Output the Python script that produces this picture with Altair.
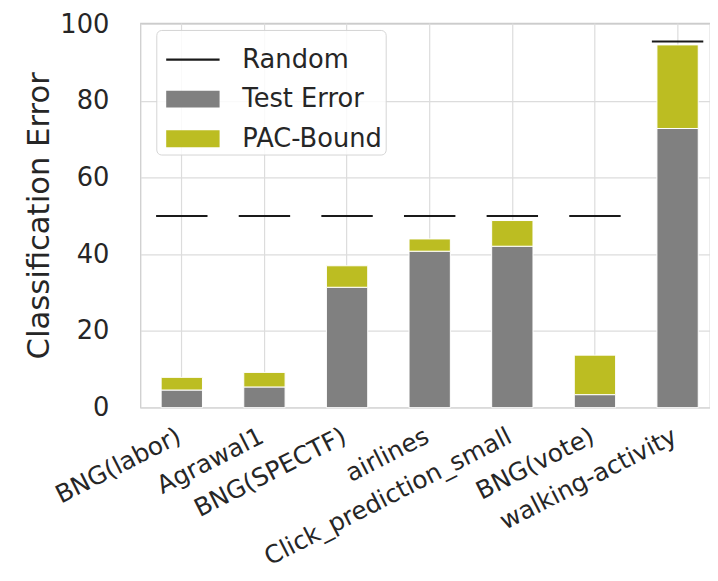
import altair as alt
import pandas as pd

# ---- data ----
datasets = ["BNG(labor)", "Agrawal1", "BNG(SPECTF)", "airlines",
            "Click_prediction_small", "BNG(vote)", "walking-activity"]
test_error = [4.6, 5.4, 31.4, 40.8, 42.1, 3.4, 72.8]
pac_bound = [7.9, 9.2, 37.0, 44.0, 48.8, 13.7, 94.6]
random_error = [50, 50, 50, 50, 50, 50, 95.5]

series = ["Random", "Test Error", "PAC-Bound"]
series_colors = ["#1a1a1a", "#808080", "#bcbd22"]
legend_shapes = ["M-1,-0.04H1V0.04H-1Z",
                 "M-1,-0.315H1V0.315H-1Z",
                 "M-1,-0.315H1V0.315H-1Z"]

y_ticks = [0, 20, 40, 60, 80, 100]

df = pd.DataFrame({"dataset": datasets, "test": test_error,
                   "pac": pac_bound, "random": random_error})
legend_df = pd.DataFrame({"series": series})

FONT = "DejaVu Sans"
TXT = "#262626"

x_enc = alt.X(
    "dataset:N", sort=datasets, title=None,
    scale=alt.Scale(range=[0, 585], paddingInner=0.5, paddingOuter=0.25),
    axis=alt.Axis(labelAngle=-27, labelAlign="right", labelBaseline="top",
                  labelPadding=16, labelOffset=-8, labelFontSize=25,
                  labelFont=FONT, labelColor=TXT, labelLimit=600,
                  labelOverlap=False, labelBound=False, ticks=False,
                  domain=False, grid=True, bandPosition=0.5,
                  gridColor="#dcdcdc", gridWidth=1.2),
)
y_scale = alt.Scale(domain=[0, 100.3], nice=False, zero=True)
y_axis = alt.Axis(values=y_ticks, title="Classification Error",
                  titleFontSize=31, titleFont=FONT, titleFontWeight="normal",
                  titleColor=TXT, titleBaseline="alphabetic", titleX=-93,
                  labelFontSize=26, labelFont=FONT, labelColor=TXT,
                  labelPadding=32, ticks=False, domain=False, grid=True,
                  gridColor="#dcdcdc", gridWidth=1.2)

base = alt.Chart(df)

test_bars = base.mark_bar(color="#808080", stroke="white", strokeWidth=1).encode(
    x=x_enc,
    y=alt.Y("test:Q", scale=y_scale, axis=y_axis),
)
pac_bars = base.mark_bar(color="#bcbd22", stroke="white", strokeWidth=1).encode(
    x=x_enc,
    y=alt.Y("test:Q", scale=y_scale, axis=y_axis),
    y2="pac:Q",
)
random_ticks = base.mark_tick(color="#1a1a1a", size=52, thickness=2, opacity=1).encode(
    x=x_enc,
    y=alt.Y("random:Q", scale=y_scale, axis=y_axis),
)

leg = alt.Legend(title=None, orient="none", legendX=16, legendY=7,
                 padding=3, symbolOffset=7, cornerRadius=5,
                 strokeColor="#d5d5d5", fillColor="rgba(255,255,255,0.85)",
                 labelFontSize=26, labelFont=FONT, labelColor=TXT,
                 labelOffset=23, symbolSize=2916, rowPadding=-1,
                 symbolStrokeWidth=0, labelLimit=400, symbolOpacity=1)

legend_layer = alt.Chart(legend_df).transform_filter("false").mark_point(
    filled=True, opacity=1).encode(
    color=alt.Color("series:N", scale=alt.Scale(domain=series, range=series_colors), legend=leg),
    shape=alt.Shape("series:N", scale=alt.Scale(domain=series, range=legend_shapes), legend=leg),
)

chart = alt.layer(test_bars, pac_bars, random_ticks, legend_layer).properties(
    width=576, height=389,
    autosize=alt.AutoSizeParams(type="none"),
    padding={"left": 134, "top": 12, "right": 0, "bottom": 164},
    background="white",
).configure_view(stroke="#cccccc", strokeWidth=1.25)

chart.save("out.html", embed_options={"renderer": "svg", "actions": False})
